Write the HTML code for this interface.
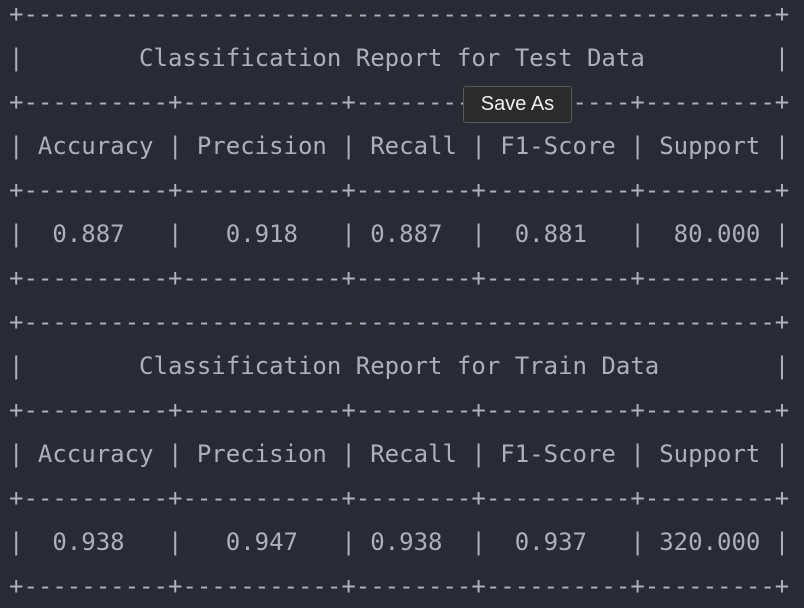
<!DOCTYPE html>
<html><head><meta charset="utf-8"><style>
html,body{margin:0;padding:0;background:#282b33;width:804px;height:600px;overflow:hidden;}
pre{position:absolute;left:9px;top:-8px;margin:0;font-family:"DejaVu Sans Mono","Liberation Mono",monospace;font-size:24px;line-height:44px;color:#abb0ba;white-space:pre;}
.tip{position:absolute;left:463px;top:86px;width:109px;height:37px;background:#2b2b2b;border:1px solid #5a5a5a;border-radius:3px;color:#f0f0f0;font-family:"Liberation Sans",sans-serif;font-size:20px;line-height:35px;text-align:center;box-sizing:border-box;}
</style></head><body>
<pre>+----------------------------------------------------+
|        Classification Report for Test Data         |
+----------+-----------+--------+----------+---------+
| Accuracy | Precision | Recall | F1-Score | Support |
+----------+-----------+--------+----------+---------+
|  0.887   |   0.918   | 0.887  |  0.881   |  80.000 |
+----------+-----------+--------+----------+---------+
+----------------------------------------------------+
|        Classification Report for Train Data        |
+----------+-----------+--------+----------+---------+
| Accuracy | Precision | Recall | F1-Score | Support |
+----------+-----------+--------+----------+---------+
|  0.938   |   0.947   | 0.938  |  0.937   | 320.000 |
+----------+-----------+--------+----------+---------+</pre>
<div class="tip">Save As</div>
</body></html>
